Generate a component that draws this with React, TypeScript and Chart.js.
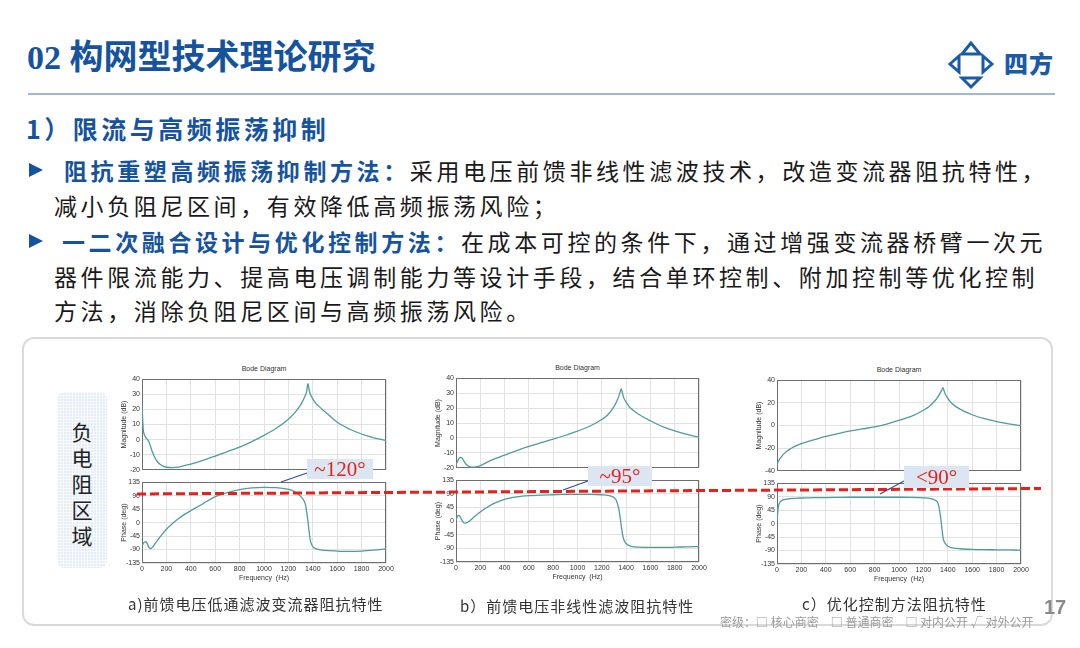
import React, { useEffect, useRef } from "react";
import { Chart, registerables } from "chart.js";
Chart.register(...registerables);

// ---------- data ----------
const freqHz = [0, 10, 20, 30, 40, 50, 60, 70, 80, 100, 125, 150, 200, 250, 300, 400, 500, 600, 700, 800, 900, 1000, 1100, 1200, 1250, 1300, 1320, 1340, 1350, 1360, 1370, 1380, 1400, 1425, 1450, 1500, 1600, 1700, 1800, 1900, 2000];

// a) feed-forward voltage low-pass filter
const magA = [23, 7, 3, 1.5, 0.5, -0.5, -2, -4.5, -7, -11, -14.5, -16.5, -18.3, -18.5, -18.2, -16.2, -13.8, -11, -8, -5, -1.3, 2.8, 7.5, 13.5, 17.5, 23, 26, 29.5, 32, 37, 33, 30, 27, 24, 22, 18.5, 11.5, 7, 3.7, 1.2, -0.7];
const phaseA = [-78, -70, -65, -64, -68, -77, -84, -87, -85, -75, -60, -47, -22, -3, 14, 40, 63, 87, 100, 110, 116, 118, 117, 111, 104, 88, 78, 60, 35, 5, -30, -60, -80, -87, -90, -93, -95, -96, -95, -92, -88];

// b) feed-forward voltage nonlinear filter
const magB = [-18.5, -16, -14.5, -13.3, -13, -13.5, -14.8, -16.2, -17.3, -18.8, -19.5, -19.6, -18.5, -16.5, -14.5, -11.5, -8.5, -5.7, -3.2, -0.8, 1.8, 4.6, 7.8, 12.3, 15.5, 21, 24, 28, 30.5, 33, 30, 27, 24, 21, 19, 16, 11.5, 7.6, 4.7, 2.4, 0.4];
const phaseB = [3, 14, 19, 17, 10, 2, -4, -7, -7, -3, 5, 14, 30, 44, 56, 72, 80, 84, 86, 87, 88, 88, 88, 87, 85, 78, 68, 40, 15, -15, -42, -60, -74, -81, -84, -86, -87, -87, -86, -85, -84];

// c) optimised control
const magC = [-35, -32, -30, -28.5, -27, -25.7, -24.6, -23.6, -22.8, -21.3, -19.6, -18.2, -16, -14.3, -12.8, -9.7, -7.2, -4.8, -3, -1.2, 1.3, 4.5, 8, 13.5, 17, 22.5, 25.5, 29, 31, 33.5, 30.5, 27.5, 24, 20.5, 18, 14.5, 9.5, 6, 3.5, 1.5, -0.2];
const phaseC = [5, 55, 68, 74, 77, 79, 80, 81, 82, 83, 84, 84.5, 85.5, 86, 86.5, 87, 87.5, 88, 88, 88, 88, 88, 87.5, 86, 84, 77, 68, 25, -10, -45, -60, -67, -76, -80, -82, -84, -86, -87, -87.5, -88, -88.5];

const freqTicks = [0, 200, 400, 600, 800, 1000, 1200, 1400, 1600, 1800, 2000];
const magTicksAB = [-20, -10, 0, 10, 20, 30, 40];
const magTicksC = [-40, -20, 0, 20, 40];
const phaseTicks = [-135, -90, -45, 0, 45, 90, 135];

const annotations = ["~120°", "~95°", "<90°"];
const captions = ["a)前馈电压低通滤波变流器阻抗特性", "b）前馈电压非线性滤波阻抗特性", "c）优化控制方法阻抗特性"];

// ---------- styling ----------
const CURVE = "#4f9c9c";
const BLUE = "#16539f";
const LEFT = 22;
const RIGHT = 12;
const TOP = 4;
Chart.defaults.font.family = "'Liberation Sans', Arial, sans-serif";

const framePlugin = {
  id: "frame",
  beforeDatasetsDraw(chart: any) {
    const { ctx, chartArea: a } = chart;
    ctx.save();
    ctx.strokeStyle = "#6e6e6e";
    ctx.lineWidth = 1;
    ctx.strokeRect(Math.round(a.left) + 0.5, Math.round(a.top) + 0.5, Math.round(a.right - a.left) - 1, Math.round(a.bottom - a.top) - 1);
    ctx.restore();
  },
};

type AxesProps = {
  left: number;
  top: number;
  width: number;
  height: number;
  values: number[];
  yTicks: number[];
  yTitle: string;
  showX: boolean;
};

function BodeAxes(p: AxesProps) {
  const ref = useRef<HTMLCanvasElement>(null);
  const bottom = p.showX ? 19 : 4;
  const cw = p.width + LEFT + RIGHT;
  const ch = p.height + TOP + bottom;
  useEffect(() => {
    const yMin = p.yTicks[0];
    const yMax = p.yTicks[p.yTicks.length - 1];
    const chart = new Chart(ref.current as HTMLCanvasElement, {
      type: "line",
      data: {
        datasets: [
          {
            data: freqHz.map((f, i) => ({ x: f, y: p.values[i] })),
            borderColor: CURVE,
            borderWidth: 1.3,
            pointRadius: 0,
            cubicInterpolationMode: "monotone",
            fill: false,
          },
        ],
      },
      options: {
        animation: false,
        responsive: false,
        devicePixelRatio: 1,
        layout: { padding: { left: 0, right: RIGHT, top: TOP, bottom: p.showX ? 0 : bottom } },
        plugins: { legend: { display: false }, tooltip: { enabled: false } },
        scales: {
          x: {
            type: "linear",
            min: 0,
            max: 2000,
            afterBuildTicks: (s: any) => {
              s.ticks = freqTicks.map((v) => ({ value: v }));
            },
            ticks: { display: p.showX, padding: 2, font: { size: 7 }, color: "#333", maxRotation: 0, autoSkip: false, callback: (v: any) => String(v) },
            grid: { color: "#e2e2e2", drawTicks: false },
            border: { display: false },
            title: { display: p.showX, text: "Frequency  (Hz)", font: { size: 7 }, color: "#333", padding: 0 },
            afterFit: (s: any) => {
              s.height = p.showX ? bottom : 0;
            },
          },
          y: {
            type: "linear",
            min: yMin,
            max: yMax,
            afterBuildTicks: (s: any) => {
              s.ticks = p.yTicks.map((v) => ({ value: v }));
            },
            ticks: { padding: 2, font: { size: 7 }, color: "#333", autoSkip: false, callback: (v: any) => String(v) },
            grid: { color: "#e2e2e2", drawTicks: false },
            border: { display: false },
            title: { display: true, text: p.yTitle, font: { size: 7 }, color: "#333", padding: 0 },
            afterFit: (s: any) => {
              s.width = LEFT;
            },
          },
        },
      } as any,
      plugins: [framePlugin],
    });
    return () => chart.destroy();
  }, []);
  return (
    <canvas
      ref={ref}
      width={cw}
      height={ch}
      style={{ position: "absolute", left: p.left - LEFT, top: p.top - TOP, width: cw, height: ch }}
    />
  );
}

type PanelGeom = {
  left: number;
  width: number;
  magTop: number;
  magH: number;
  phTop: number;
  phH: number;
  mag: number[];
  phase: number[];
  magTicks: number[];
};

const panels: PanelGeom[] = [
  { left: 142, width: 244, magTop: 377, magH: 95, phTop: 480, phH: 83, mag: magA, phase: phaseA, magTicks: magTicksAB },
  { left: 456, width: 243, magTop: 376, magH: 94, phTop: 478, phH: 84, mag: magB, phase: phaseB, magTicks: magTicksAB },
  { left: 777, width: 244, magTop: 378, magH: 95, phTop: 481, phH: 83, mag: magC, phase: phaseC, magTicks: magTicksC },
];

const calloutBoxes = [
  { x: 307, y: 459, w: 66, h: 20, lx1: 307, ly1: 473, lx2: 281, ly2: 482 },
  { x: 588, y: 466, w: 64, h: 20, lx1: 588, ly1: 481, lx2: 563, ly2: 490 },
  { x: 904, y: 466, w: 65, h: 22, lx1: 904, ly1: 481, lx2: 880, ly2: 494 },
];

const captionPos = [
  { x: 128, y: 604 },
  { x: 460, y: 606 },
  { x: 802, y: 604 },
];

const abs = (x: number, y: number, extra: any = {}) => ({ position: "absolute" as const, left: x, top: y, whiteSpace: "nowrap" as const, ...extra });

const CJK = "'Noto Sans CJK SC', 'Noto Sans', sans-serif";
const TITLEFONT = "'Liberation Serif', 'Noto Sans CJK SC', serif";

function Bullet({ y }: { y: number }) {
  return (
    <svg style={abs(28, y - 8)} width={16} height={16}>
      <polygon points="1,1 15,8 1,15" fill={BLUE} />
    </svg>
  );
}

export default function App() {
  const bodyLine = { fontFamily: CJK, fontSize: 23, letterSpacing: 3.6, color: "#1a1a1a", lineHeight: "30px" };
  return (
    <div style={{ position: "fixed", left: 0, top: 0, width: 1080, height: 648, background: "#fff", overflow: "hidden" }}>
      {/* header */}
      <div style={abs(27, 38, { fontFamily: TITLEFONT, fontWeight: 700, fontSize: 34, lineHeight: "40px", color: BLUE })}>
        02 构网型技术理论研究
      </div>
      <svg style={abs(940, 36)} width={60} height={56}>
        <g fill="none" stroke="#1a5aa8" strokeWidth={3} strokeLinejoin="miter">
          <polygon points="31,7 22,18 40,18" />
          <polygon points="22,42 40,42 31,51" />
          <polygon points="10,28 19,20 19,36" />
          <polygon points="52,28 43,20 43,36" />
        </g>
      </svg>
      <div style={abs(1004, 49, { fontFamily: CJK, fontWeight: 900, fontSize: 24, lineHeight: "28px", color: "#1a5aa8", letterSpacing: 1 })}>四方</div>
      <div style={abs(28, 93, { width: 1027, height: 2, background: "#9bb8df" })} />
      <div style={abs(26, 113, { fontFamily: CJK, fontWeight: 700, fontSize: 25, letterSpacing: 3.5, lineHeight: "30px", color: BLUE })}>
        1）限流与高频振荡抑制
      </div>

      {/* bullets */}
      <Bullet y={170} />
      <div style={abs(64, 155, bodyLine)}>
        <span style={{ color: BLUE, fontWeight: 700 }}>阻抗重塑高频振荡抑制方法：</span>采用电压前馈非线性滤波技术，改造变流器阻抗特性，
      </div>
      <div style={abs(54, 190, bodyLine)}>减小负阻尼区间，有效降低高频振荡风险；</div>
      <Bullet y={241} />
      <div style={abs(62, 226, bodyLine)}>
        <span style={{ color: BLUE, fontWeight: 700 }}>一二次融合设计与优化控制方法：</span>在成本可控的条件下，通过增强变流器桥臂一次元
      </div>
      <div style={abs(54, 261, bodyLine)}>器件限流能力、提高电压调制能力等设计手段，结合单环控制、附加控制等优化控制</div>
      <div style={abs(54, 295, bodyLine)}>方法，消除负阻尼区间与高频振荡风险。</div>

      {/* figure frame */}
      <div style={abs(22, 337, { width: 1031, height: 289, border: "2px solid #dadada", borderRadius: 12, boxSizing: "border-box" })} />

      {/* negative resistance label */}
      <div
        style={abs(57, 392, {
          width: 50,
          height: 176,
          borderRadius: 7,
          backgroundColor: "#e3edf8",
          backgroundImage:
            "linear-gradient(rgba(255,255,255,0.75) 1px, transparent 1px), linear-gradient(90deg, rgba(255,255,255,0.75) 1px, transparent 1px)",
          backgroundSize: "3px 3px",
        })}
      />
      <div style={abs(57, 418, { width: 50, textAlign: "center", fontFamily: CJK, fontSize: 21, lineHeight: "26px", color: "#222", whiteSpace: "normal" })}>
        {"负电阻区域".split("").map((c) => (
          <div key={c}>{c}</div>
        ))}
      </div>

      {/* bode plots */}
      {panels.map((g, i) => (
        <React.Fragment key={i}>
          <div style={abs(g.left, g.magTop - 13, { width: g.width, textAlign: "center", fontFamily: "'Liberation Sans', Arial", fontSize: 7, lineHeight: "9px", color: "#333" })}>
            Bode Diagram
          </div>
          <BodeAxes left={g.left} top={g.magTop} width={g.width} height={g.magH} values={g.mag} yTicks={g.magTicks} yTitle="Magnitude (dB)" showX={false} />
          <BodeAxes left={g.left} top={g.phTop} width={g.width} height={g.phH} values={g.phase} yTicks={phaseTicks} yTitle="Phase (deg)" showX={true} />
        </React.Fragment>
      ))}

      {/* red dashed 90° reference + leaders */}
      <svg style={abs(0, 0, { pointerEvents: "none" })} width={1080} height={648}>
        {calloutBoxes.map((b, i) => (
          <line key={i} x1={b.lx1} y1={b.ly1} x2={b.lx2} y2={b.ly2} stroke="#2d4f9e" strokeWidth={1.2} />
        ))}
        <line x1={137} y1={494} x2={1041} y2={488.5} stroke="#e4211c" strokeWidth={3} strokeDasharray="9 4" />
      </svg>
      {calloutBoxes.map((b, i) => (
        <div
          key={i}
          style={abs(b.x, b.y, {
            width: b.w,
            height: b.h,
            background: "#dce6f2",
            color: "#e2231a",
            fontFamily: "'Liberation Serif', serif",
            fontSize: 21,
            lineHeight: `${b.h}px`,
            textAlign: "center",
          })}
        >
          {annotations[i]}
        </div>
      ))}

      {/* captions */}
      {captions.map((c, i) => (
        <div key={i} style={abs(captionPos[i].x, captionPos[i].y - 10, { fontFamily: CJK, fontSize: 15, lineHeight: "20px", color: "#333", letterSpacing: 1 })}>
          {c}
        </div>
      ))}

      {/* footer */}
      <div style={abs(1044, 595, { fontFamily: "'Liberation Sans', Arial", fontWeight: 700, fontSize: 20, lineHeight: "24px", color: "#8a8a8a" })}>17</div>
      <div style={abs(720, 614, { fontFamily: CJK, fontSize: 12, lineHeight: "16px", color: "#9a9a9a" })}>
        密级：□ 核心商密　□ 普通商密　□ 对内公开 √ 对外公开
      </div>
    </div>
  );
}
